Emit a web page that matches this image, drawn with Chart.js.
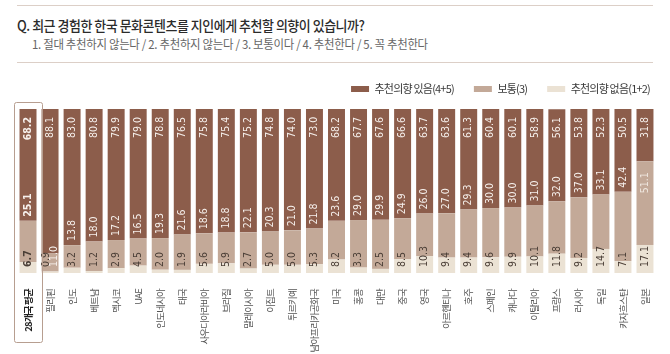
<!DOCTYPE html>
<html>
<head>
<meta charset="utf-8">
<script src="https://cdn.jsdelivr.net/npm/chart.js@4.4.1/dist/chart.umd.min.js"></script>
<style>
  html, body { margin: 0; padding: 0; background: #fff; }
  body { width: 670px; height: 354px; position: relative; overflow: hidden; font-family: "Noto Sans CJK KR", sans-serif; }
  .rule { position: absolute; left: 17px; width: 636px; height: 0; border-top: 1px solid #dccfc7; }
  #title { position: absolute; left: 17px; top: 15px; font-size: 14px; font-weight: 500; color: #2b2b2b; white-space: nowrap; letter-spacing: -0.5px; transform-origin: left top; transform: scaleX(0.925); }
  #sub { position: absolute; left: 32px; top: 35px; font-size: 12px; color: #666; white-space: nowrap; letter-spacing: -0.3px; transform-origin: left top; transform: scaleX(0.95); }
  #wrap { position: absolute; left: 0; top: 0; width: 670px; height: 354px; }
</style>
</head>
<body>
<div class="rule" style="top:5px"></div>
<div id="title">Q. 최근 경험한 한국 문화콘텐츠를 지인에게 추천할 의향이 있습니까?</div>
<div id="sub">1. 절대 추천하지 않는다 / 2. 추천하지 않는다 / 3. 보통이다 / 4. 추천한다 / 5. 꼭 추천한다</div>
<div class="rule" style="top:62px"></div>
<div id="wrap"><canvas id="myChart"></canvas></div>
<script>
let countries = ['28개국 평균', '필리핀', '인도', '베트남', '멕시코', 'UAE', '인도네시아', '태국', '사우디아라비아', '브라질',
  '말레이시아', '이집트', '튀르키예', '남아프리카공화국', '미국', '홍콩', '대만', '중국', '영국', '아르헨티나',
  '호주', '스페인', '캐나다', '이탈리아', '프랑스', '러시아', '독일', '카자흐스탄', '일본'];

let recommend = [68.2, 88.1, 83.0, 80.8, 79.9, 79.0, 78.8, 76.5, 75.8, 75.4, 75.2, 74.8, 74.0, 73.0, 68.2, 67.7, 67.6, 66.6, 63.7, 63.6,
  61.3, 60.4, 60.1, 58.9, 56.1, 53.8, 52.3, 50.5, 31.8];
let neutral = [25.1, 11.0, 13.8, 18.0, 17.2, 16.5, 19.3, 21.6, 18.6, 18.8, 22.1, 20.3, 21.0, 21.8, 23.6, 29.0, 29.9, 24.9, 26.0, 27.0,
  29.3, 30.0, 30.0, 31.0, 32.0, 37.0, 33.1, 42.4, 51.1];
let notRecommend = [6.7, 0.9, 3.2, 1.2, 2.9, 4.5, 2.0, 1.9, 5.6, 5.9, 2.7, 5.0, 5.0, 5.3, 8.2, 3.3, 2.5, 8.5, 10.3, 9.4,
  9.4, 9.6, 9.9, 10.1, 11.8, 9.2, 14.7, 7.1, 17.1];

let seriesNames = ['추천의향 없음(1+2)', '보통(3)', '추천의향 있음(4+5)'];
let colors = ['#ebe2d4', '#c3a998', '#8c5d4b'];

const numFont = '"Liberation Sans Narrow", "DejaVu Sans Condensed", sans-serif';

function putText(ctx, text, x, y, align, color, bold) {
  ctx.save();
  ctx.translate(x, y);
  ctx.rotate(-Math.PI / 2);
  ctx.textAlign = align;
  ctx.textBaseline = 'middle';
  ctx.fillStyle = color;
  ctx.font = (bold ? 'bold ' : '') + '10.5px ' + numFont;
  ctx.fillText(text, 0, 0);
  ctx.restore();
}

// value labels inside the bars
const barLabels = {
  id: 'barLabels',
  afterDatasetsDraw(chart) {
    let ctx = chart.ctx;
    ctx.save();
    ctx.letterSpacing = '0px';
    let low = chart.getDatasetMeta(0).data;
    let mid = chart.getDatasetMeta(1).data;
    let top = chart.getDatasetMeta(2).data;
    for (let i = 0; i < countries.length; i++) {
      let bold = i === 0;
      let x = top[i].x;
      putText(ctx, recommend[i].toFixed(1), x, top[i].y + 8, 'right', '#f6f0ec', bold);
      if (neutral[i] < 12) {
        putText(ctx, notRecommend[i].toFixed(1), x - 4, low[i].base - 6, 'left', '#4a3e36', bold);
        putText(ctx, neutral[i].toFixed(1), x + 4, low[i].base - 6, 'left', '#f6f0ec', bold);
        continue;
      }
      if (recommend[i] < 35) {
        putText(ctx, neutral[i].toFixed(1), x, mid[i].y + 11, 'right', '#efe7df', bold);
      } else {
        putText(ctx, neutral[i].toFixed(1), x, mid[i].y - 4, 'left', '#f6f0ec', bold);
      }
      putText(ctx, notRecommend[i].toFixed(1), x, low[i].base - 6, 'left', '#4a3e36', bold);
    }
    ctx.restore();
  },
  afterDraw(chart) {
    // outline round the average column
    let ctx = chart.ctx;
    let cx = chart.scales.x.getPixelForValue(0);
    ctx.save();
    ctx.strokeStyle = '#b79e90';
    ctx.lineWidth = 1;
    ctx.beginPath();
    ctx.roundRect(Math.round(cx - 14) + 0.5, chart.chartArea.top - 6.5, 28, 240, 2);
    ctx.stroke();
    ctx.restore();
  }
};

const tightText = {
  id: 'tightText',
  beforeInit(chart) {
    const fit = chart.legend.fit;
    chart.legend.fit = function () {
      fit.bind(chart.legend)();
      this.height += 4.5;
    };
  },
  beforeLayout(chart) { chart.ctx.letterSpacing = '-0.8px'; },
  beforeDraw(chart) { chart.ctx.letterSpacing = '-0.8px'; }
};

function render() {
  var ctx = document.getElementById('myChart').getContext('2d');

  let datasets = [];
  let values = [notRecommend, neutral, recommend];
  for (let k = 0; k < 3; k++) {
    datasets.push({
      label: seriesNames[k],
      data: values[k],
      backgroundColor: colors[k],
      borderWidth: 0,
      barPercentage: 0.77,
      categoryPercentage: 1.0
    });
  }

  /*global Chart*/
  new Chart(ctx, {
    type: 'bar',
    data: { labels: countries, datasets: datasets },
    plugins: [tightText, barLabels],
    options: {
      responsive: true,
      maintainAspectRatio: false,
      animation: false,
      layout: { padding: { top: 63.5, left: 17, right: 0, bottom: 0 } },
      plugins: {
        tooltip: { enabled: false },
        legend: {
          position: 'top',
          align: 'end',
          reverse: true,
          labels: {
            boxWidth: 18,
            boxHeight: 6,
            padding: 20,
            color: '#3a3a3a',
            font: { family: '"Noto Sans CJK KR", sans-serif', size: 11 }
          }
        }
      },
      scales: {
        x: {
          stacked: true,
          grid: { display: false },
          border: { display: false },
          afterFit: (s) => { s.height = 81; },
          ticks: {
            autoSkip: false,
            minRotation: 90,
            maxRotation: 90,
            padding: 8,
            color: (c) => c.index === 0 ? '#222' : '#555',
            font: (c) => ({ family: '"Noto Sans CJK KR", sans-serif', size: 9.5, weight: c.index === 0 ? 'bold' : 'normal' })
          }
        },
        y: {
          stacked: true,
          position: 'right',
          min: 0,
          max: 100,
          grid: { display: false },
          border: { display: false },
          ticks: { display: false },
          afterFit: (s) => { s.width = 14; }
        }
      }
    }
  });
}

render();
</script>
</body>
</html>
